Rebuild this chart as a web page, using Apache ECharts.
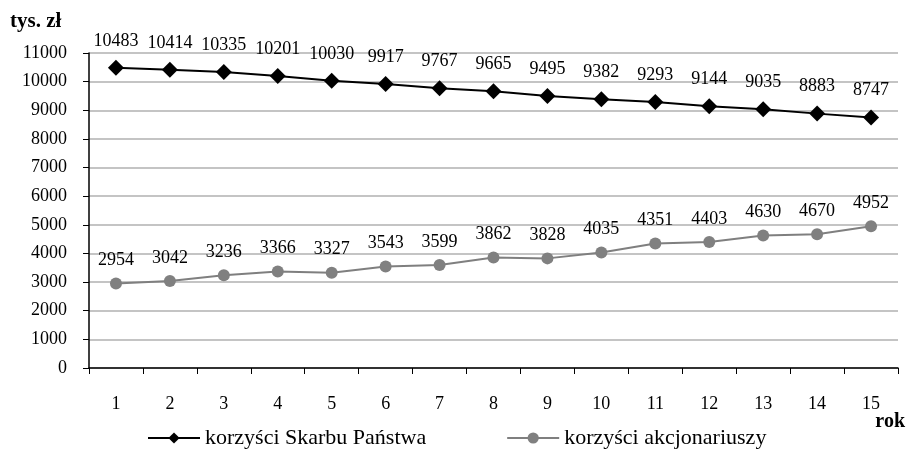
<!DOCTYPE html>
<html><head><meta charset="utf-8">
<script src="https://cdn.jsdelivr.net/npm/echarts@6/dist/echarts.min.js"></script>
<style>html,body{margin:0;padding:0;background:#fff}#c{width:908px;height:457px}</style>
</head><body><div id="c"></div>
<script>
const categories = ['1','2','3','4','5','6','7','8','9','10','11','12','13','14','15'];
const skarb = [10483,10414,10335,10201,10030,9917,9767,9665,9495,9382,9293,9144,9035,8883,8747];
const akcj = [2954,3042,3236,3366,3327,3543,3599,3862,3828,4035,4351,4403,4630,4670,4952];
const seriesNames = ['korzyści Skarbu Państwa','korzyści akcjonariuszy'];
const FONT = 'Liberation Serif';
const chart = echarts.init(document.getElementById('c'), null, {renderer:'canvas'});
chart.setOption({
  animation:false,
  backgroundColor:'#fff',
  textStyle:{fontFamily:FONT},
  grid:{left:89,right:10,top:53,bottom:89,containLabel:false},
  graphic:[
    {type:'text',left:10,top:11,style:{text:'tys. zł',font:'bold 21px "Liberation Serif"',fill:'#000'}},
    {type:'text',right:3,top:412,style:{text:'rok',font:'bold 20px "Liberation Serif"',fill:'#000'}}
  ],
  legend:{
    bottom:3,left:142,itemWidth:52,itemHeight:14,itemGap:80,
    textStyle:{fontFamily:FONT,fontSize:22,color:'#000'},
    data:seriesNames
  },
  xAxis:{
    type:'category',data:categories,boundaryGap:true,
    axisLine:{lineStyle:{color:'#000',width:1.5}},
    axisTick:{show:true,length:6,lineStyle:{color:'#000'},alignWithLabel:false},
    axisLabel:{color:'#000',fontSize:18,fontFamily:FONT,margin:27}
  },
  yAxis:{
    type:'value',min:0,max:11000,interval:1000,
    axisLine:{show:true,lineStyle:{color:'#000',width:1.5}},
    axisTick:{show:true,length:6,inside:false,lineStyle:{color:'#000'}},
    axisLabel:{color:'#000',fontSize:18,fontFamily:FONT,margin:22,formatter:function(v){return String(v);}},
    splitLine:{lineStyle:{color:'#c4c4c4',width:2}}
  },
  series:[
    {name:seriesNames[0],type:'line',data:skarb,symbol:'diamond',symbolSize:16,
     lineStyle:{color:'#000',width:2},itemStyle:{color:'#000'},color:'#000',
     label:{show:true,position:'top',distance:10,color:'#000',fontSize:18,fontFamily:FONT}},
    {name:seriesNames[1],type:'line',data:akcj,symbol:'circle',symbolSize:12,
     lineStyle:{color:'#7f7f7f',width:2},itemStyle:{color:'#808080'},color:'#808080',
     label:{show:true,position:'top',distance:8,color:'#000',fontSize:18,fontFamily:FONT}}
  ]
});
</script></body></html>
